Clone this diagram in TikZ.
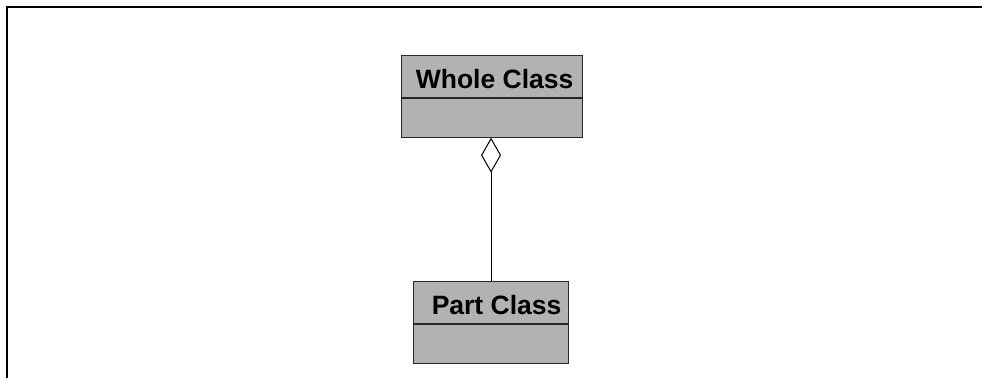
\documentclass[tikz,border=0pt]{standalone}
\usepackage{fontspec}
\setmainfont{Liberation Sans}
\usetikzlibrary{positioning,arrows.meta}
\definecolor{classgray}{RGB}{178,178,178}
\definecolor{classedge}{RGB}{40,40,40}
\tikzset{
  namebox/.style={draw=classedge, fill=classgray, line width=1.1pt, minimum height=42pt, inner sep=0pt},
  attrbox/.style={namebox, minimum height=38.5pt},
  classtext/.style={font=\fontsize{26.5}{31}\selectfont\bfseries, inner sep=0pt},
  aggregation/.style={draw=black, line width=1pt, -{Diamond[open, length=35pt, width=20pt]}},
  frameline/.style={draw=black, line width=2pt}
}

\begin{document}
\begin{tikzpicture}
  \useasboundingbox (0pt,0pt) rectangle (982pt,-378pt);
  % рамка
  \coordinate (frameTR) at (982pt,-7pt);
  \coordinate (frameTL) at (7pt,-7pt);
  \coordinate (frameBL) at (7pt,-378pt);
  \draw[frameline] (frameTR) -- (frameTL) -- (frameBL);

  % классы
  \foreach \id/\txt/\xl/\yt/\w/\rs in {whole/Whole Class/400.5pt/-55pt/181pt/-9pt, part/Part Class/413pt/-281pt/155pt/-7.5pt} {
    \node[namebox, anchor=north west, minimum width=\w] (\id-name) at (\xl,\yt) {};
    \node[attrbox, anchor=north, minimum width=\w] (\id-attr) at (\id-name.south) {};
    \node[classtext, anchor=base east] (\id-text) at ([xshift=\rs, yshift=-33.8pt]\id-name.north east) {\txt};
  }

  % агрегация
  \draw[aggregation] (part-name.north) -- (part-name.north |- whole-attr.south);
\end{tikzpicture}
\end{document}
